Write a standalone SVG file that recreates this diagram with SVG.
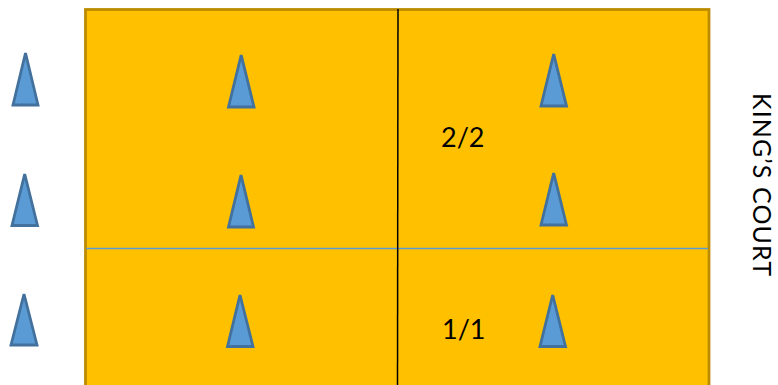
<svg xmlns="http://www.w3.org/2000/svg" width="778" height="385" viewBox="0 0 778 385">
<style>
.tri{fill:#5b9bd5;stroke:#41719c;stroke-width:2.800;stroke-linejoin:miter}
text{font-family:"Lato","Liberation Sans",sans-serif;fill:#000;font-size:27px}
</style>
<rect width="778" height="385" fill="#fff"/>
<g id="court"><rect x="85.500" y="9.500" width="623.500" height="380" fill="#ffc000" stroke="#bc8c00" stroke-width="2.800"/></g>
<g id="connectors">
<line x1="86" y1="248.500" x2="708" y2="248.500" stroke="#5b9bd5" stroke-width="1.500"/>
<line x1="398" y1="9" x2="397.500" y2="385" stroke="#000" stroke-width="1.500"/>
</g>
<g id="t1"><path class="tri" d="M25.500 53 L38 105 L13 105 Z"/></g>
<g id="t2"><path class="tri" d="M241.200 55 L254 107 L228.500 107 Z"/></g>
<g id="t3"><path class="tri" d="M553.700 54 L566.500 106 L541 106 Z"/></g>
<g id="t4"><path class="tri" d="M24.700 174 L37.500 225.500 L12 225.500 Z"/></g>
<g id="t5"><path class="tri" d="M241 175 L253.500 227 L228.500 227 Z"/></g>
<g id="t6"><path class="tri" d="M553.700 173 L566.500 225 L541 225 Z"/></g>
<g id="t7"><path class="tri" d="M24 294 L37 345 L11 345 Z"/></g>
<g id="t8"><path class="tri" d="M240 295 L253 346.500 L227.500 346.500 Z"/></g>
<g id="t9"><path class="tri" d="M552.700 295 L565.500 346.500 L540 346.500 Z"/></g>
<g id="label-22"><text x="441" y="147">2/2</text></g>
<g id="label-11"><text x="442" y="339">1/1</text></g>
<g id="label-court"><text transform="translate(753 93) rotate(90)" textLength="183" style="font-size:25px">KING’S COURT</text></g>
</svg>
